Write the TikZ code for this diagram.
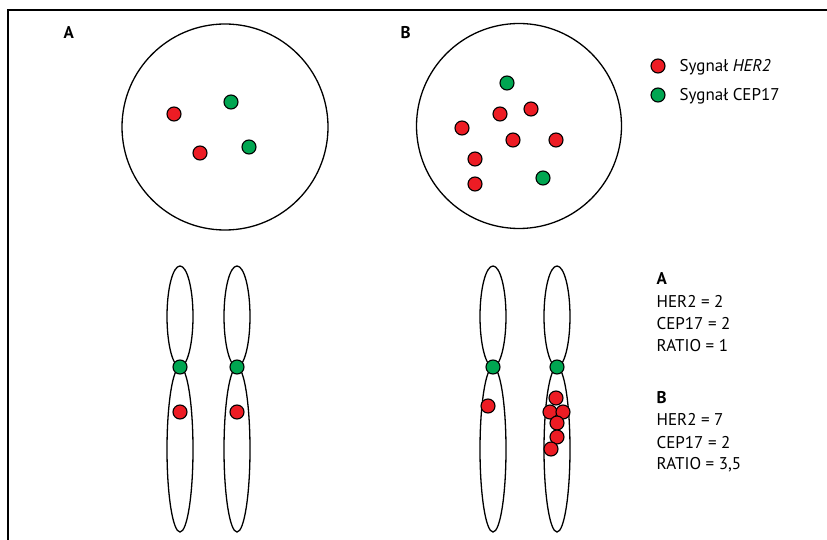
\documentclass[tikz,border=0pt]{standalone}
\usepackage{fontspec}
\setmainfont{PT Sans}
\definecolor{herred}{HTML}{ED1C24}
\definecolor{cepgreen}{HTML}{00A651}
\tikzset{
  her/.style={circle,draw=black,line width=1.1pt,fill=herred,minimum size=14pt,inner sep=0pt},
  cep/.style={her,fill=cepgreen},
  txt/.style={font=\fontsize{17}{20}\selectfont,inner sep=0pt,anchor=base west},
}
\begin{document}
\begin{tikzpicture}[x=1pt,y=-1pt,line width=1.3pt]
  \useasboundingbox (0,0) rectangle (827,540);
  \draw (827,10) -- (8,10) -- (8,540);
  \node[txt] (labA) at (63,39) {\textbf{A}}; \node[txt] (labB) at (400,39) {\textbf{B}};
  % nuclei
  \draw (225,127) circle [radius=103pt]; \draw (519,126) circle [radius=102.5pt];
  \node[her] (a1) at (174,114) {}; \node[cep] (a2) at (231,102) {}; \node[her] (a3) at (200,153) {}; \node[cep] (a4) at (249,147) {};
  \foreach \p [count=\i] in {(531,109),(500,114),(462,128),(513,140),(556,140),(475,159),(475,184)} \node[her] (b\i) at \p {};
  \node[cep] (b8) at (507,83) {}; \node[cep] (b9) at (543,178) {};
  % legend
  \node[her] (lh) at (658,66) {}; \node[txt] (lht) at (679,72) {Sygnał \textit{HER2}};
  \node[cep] (lc) at (658,95) {}; \node[txt] (lct) at (679,101) {Sygnał CEP17};
  % chromosomes
  \foreach \x in {180,237,493,557} {\draw (\x,316.5) ellipse [x radius=13pt,y radius=50.5pt]; \draw (\x,449.5) ellipse [x radius=13pt,y radius=82.5pt];
    \node[cep] (c\x) at (\x,367) {};}
  \node[her] (h1) at (180,412) {}; \node[her] (h2) at (237,412) {}; \node[her] (h3) at (488,406) {};
  \foreach \p [count=\i] in {(556,398),(550,412),(563,412),(557,423),(557,437),(551,449)} \node[her] (g\i) at \p {};
  % counts
  \foreach \t/\yy [count=\i] in {{\textbf{A}}/284,HER2 = 2/307,CEP17 = 2/329,RATIO = 1/351,{\textbf{B}}/403,HER2 = 7/425,CEP17 = 2/448,{RATIO = 3,5}/469}
    \node[txt] (n\i) at (656,\yy) {\t};
\end{tikzpicture}
\end{document}
